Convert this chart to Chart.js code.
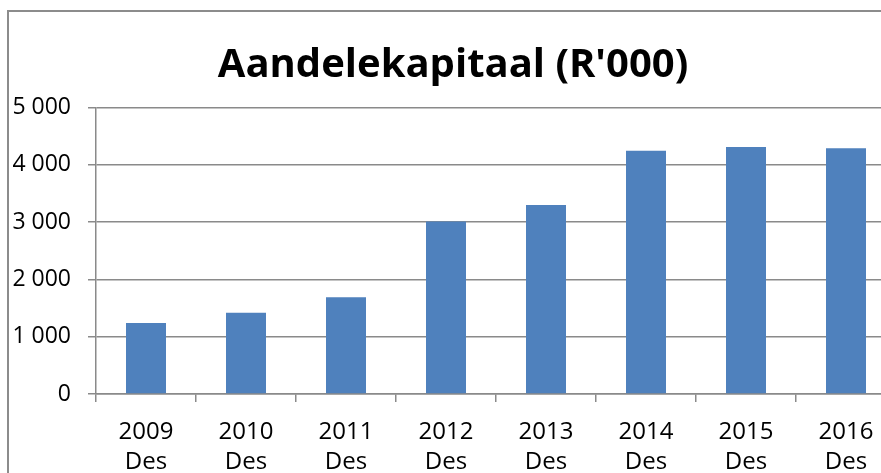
<!DOCTYPE html>
<html>
<head>
<meta charset="utf-8">
<script src="https://cdn.jsdelivr.net/npm/chart.js@4/dist/chart.umd.min.js"></script>
<style>
  html, body { margin: 0; padding: 0; background: #fff; overflow: hidden; width: 881px; height: 473px; }
  #frame { position: absolute; left: 7px; top: 10px; width: 2000px; height: 2000px;
           border-left: 2px solid #8c8c8c; border-top: 2px solid #8c8c8c; }
  #c { position: absolute; left: 0; top: 0; }
</style>
</head>
<body>
<div id="frame"></div>
<canvas id="c" width="904" height="492"></canvas>
<script>
const titleText = "Aandelekapitaal (R'000)";
const categories = [["2009", "Des"], ["2010", "Des"], ["2011", "Des"], ["2012", "Des"],
                    ["2013", "Des"], ["2014", "Des"], ["2015", "Des"], ["2016", "Des"]];
const shareCapital = [1240, 1420, 1690, 3010, 3300, 4245, 4310, 4290];
const yTickValues = [0, 1000, 2000, 3000, 4000, 5000];
const yTickLabels = ["0", "1 000", "2 000", "3 000", "4 000", "5 000"];

const FONT = "'Open Sans', 'Liberation Sans', sans-serif";
const GRID = '#8a8a8a';

new Chart(document.getElementById('c'), {
  type: 'bar',
  data: {
    labels: categories,
    datasets: [{
      data: shareCapital,
      backgroundColor: '#4F81BD',
      borderWidth: 0,
      barPercentage: 0.4,
      categoryPercentage: 1.0
    }]
  },
  options: {
    responsive: false,
    animation: false,
    layout: { padding: { left: 10, right: 8, top: 0, bottom: 0 } },
    plugins: {
      legend: { display: false },
      tooltip: { enabled: false },
      title: {
        display: true,
        text: titleText,
        color: '#000',
        font: { family: FONT, size: 40, weight: 'bold', lineHeight: 1.0 },
        padding: { top: 46, bottom: 21.5 }
      }
    },
    scales: {
      x: {
        grid: { offset: true, drawOnChartArea: false, drawTicks: true, tickLength: 8, color: GRID, lineWidth: 1.5 },
        border: { color: GRID, width: 1.5 },
        ticks: { color: '#000', font: { family: FONT, size: 24, lineHeight: 1.25 }, padding: 15, maxRotation: 0, autoSkip: false }
      },
      y: {
        min: 0, max: 5000,
        afterFit: s => { s.width = 86; },
        afterBuildTicks: s => { s.ticks = yTickValues.map(v => ({ value: v })); },
        grid: { color: GRID, lineWidth: 1.5, tickLength: 8, drawTicks: true },
        border: { color: GRID, width: 1.5 },
        ticks: {
          color: '#000',
          font: { family: FONT, size: 23 },
          padding: 17,
          callback: v => yTickLabels[yTickValues.indexOf(v)]
        }
      }
    }
  }
});
</script>
</body>
</html>
